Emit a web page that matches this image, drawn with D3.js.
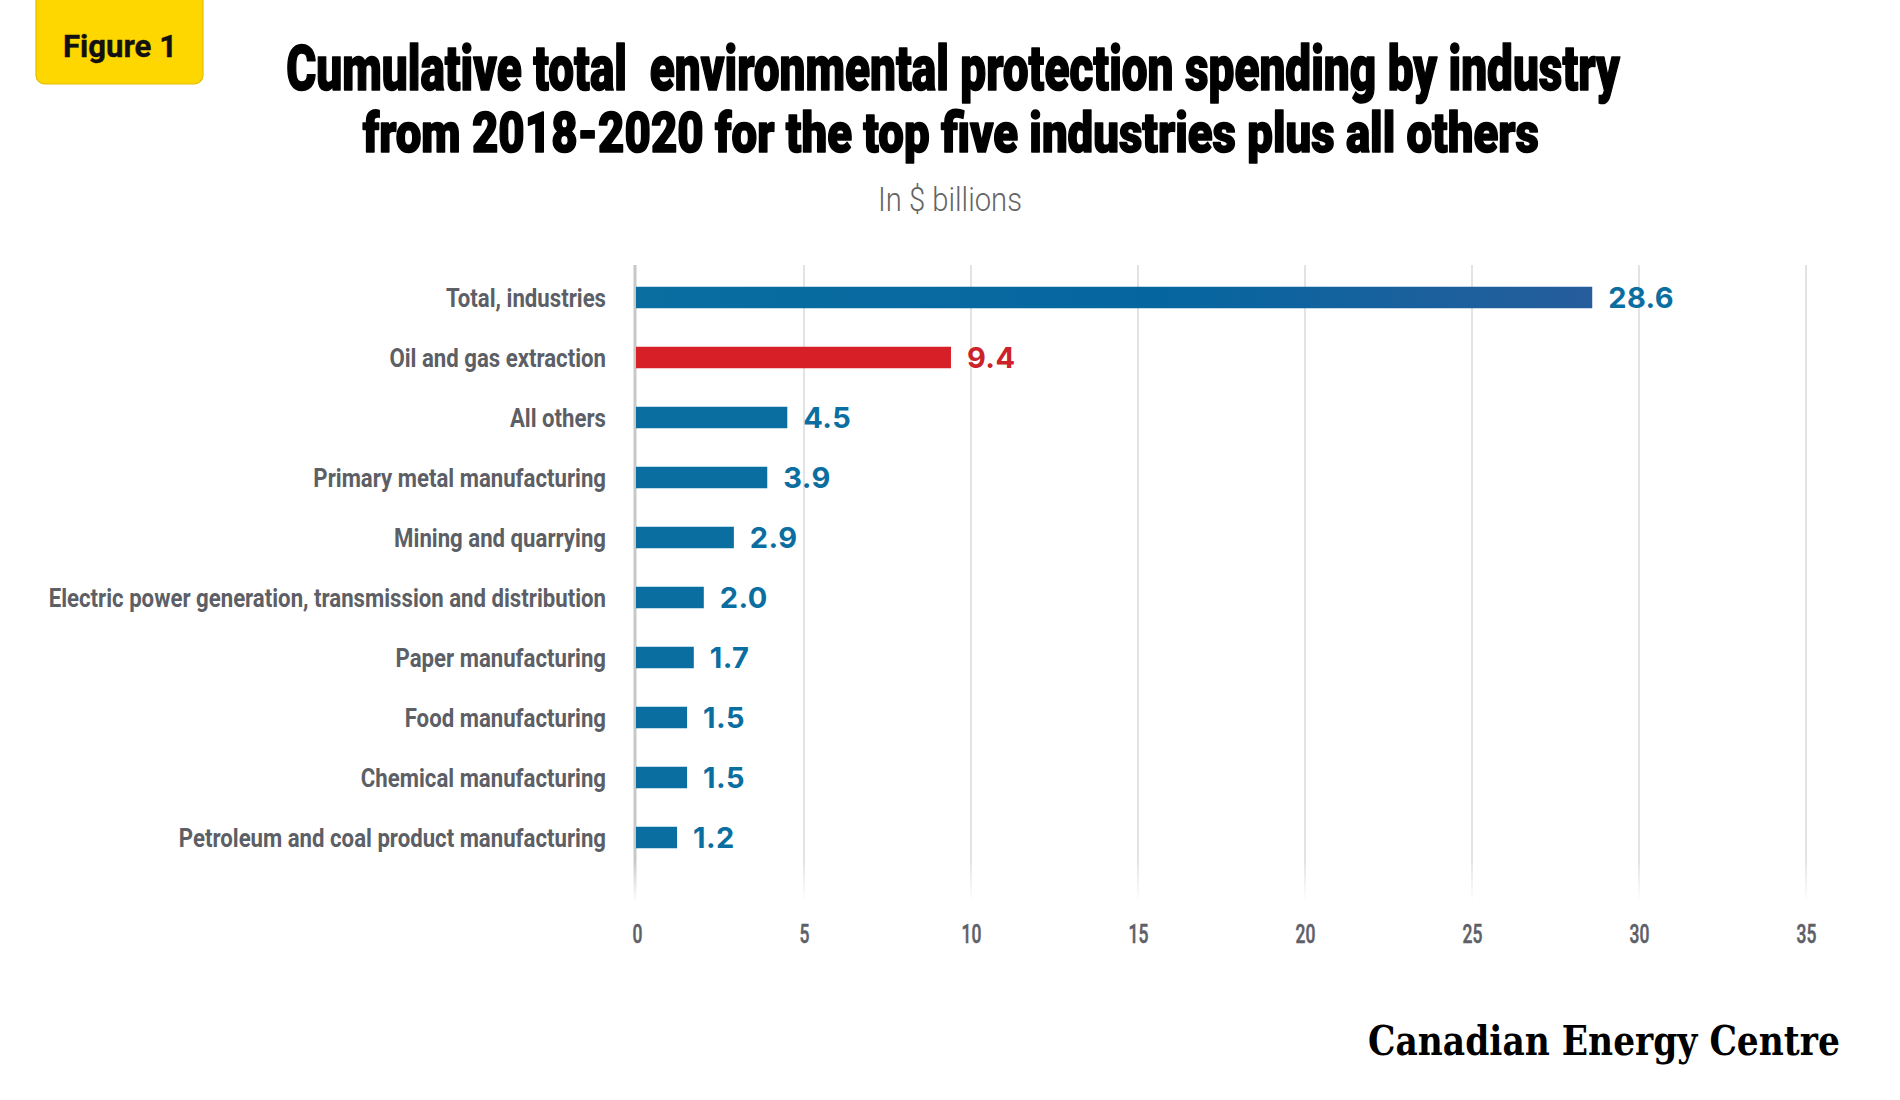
<!DOCTYPE html>
<html>
<head>
<meta charset="utf-8">
<script src="https://cdn.jsdelivr.net/npm/d3@7"></script>
<style>
  html, body { margin: 0; padding: 0; background: #ffffff; }
  svg { display: block; }
</style>
</head>
<body>
<svg id="chart" width="1900" height="1100"></svg>
<script>
// ---- Data ----
const categories = [
  "Total, industries",
  "Oil and gas extraction",
  "All others",
  "Primary metal manufacturing",
  "Mining and quarrying",
  "Electric power generation, transmission and distribution",
  "Paper manufacturing",
  "Food manufacturing",
  "Chemical manufacturing",
  "Petroleum and coal product manufacturing"
];
const values = [28.6, 9.4, 4.5, 3.9, 2.9, 2.0, 1.7, 1.5, 1.5, 1.2];
const highlight = ["Total", "Oil", "Other", "Other", "Other", "Other", "Other", "Other", "Other", "Other"];
const xTicks = [0, 5, 10, 15, 20, 25, 30, 35];
const titleLines = [
  "Cumulative total  environmental protection spending by industry",
  "from 2018-2020 for the top five industries plus all others"
];
const subtitle = "In $ billions";
const badge = "Figure 1";
const brand = "Canadian Energy Centre";

// ---- Layout ----
const svg = d3.select("#chart");
const defs = svg.append("defs");

const x = d3.scaleLinear().domain([0, 35]).range([637, 1806]);
const y = d3.scalePoint().domain(categories).range([297.5, 837.5]);
const barH = 21.5;
const gridTop = 265, gridBottom = 902;

const colors = { Total: "url(#totalGrad)", Oil: "#D61F26", Other: "#0A6EA1" };
const labelColors = { Total: "#0A6EA1", Oil: "#CC2229", Other: "#0A6EA1" };

// helper: place a text at (px, py) and squeeze it horizontally to a target width
function fittedText(parent, px, py, str, targetW, anchor, attrs) {
  const g = parent.append("g").attr("transform", `translate(${px},${py})`);
  const t = g.append("text").attr("text-anchor", anchor).style("white-space", "pre").text(str);
  Object.entries(attrs).forEach(([k, v]) => t.attr(k, v));
  const w = t.node().getComputedTextLength();
  if (w > 0) t.attr("transform", `scale(${targetW / w},1)`);
  return t;
}

// gradients
const tg = defs.append("linearGradient").attr("id", "totalGrad")
  .attr("x1", "0%").attr("x2", "100%").attr("y1", "0%").attr("y2", "0%");
tg.append("stop").attr("offset", "0%").attr("stop-color", "#0A6EA1");
tg.append("stop").attr("offset", "55%").attr("stop-color", "#05669F");
tg.append("stop").attr("offset", "100%").attr("stop-color", "#275D9C");

const gg = defs.append("linearGradient").attr("id", "gridFade")
  .attr("gradientUnits", "userSpaceOnUse")
  .attr("x1", 0).attr("x2", 0).attr("y1", 860).attr("y2", gridBottom);
gg.append("stop").attr("offset", "0%").attr("stop-color", "#dcdcdc").attr("stop-opacity", 1);
gg.append("stop").attr("offset", "100%").attr("stop-color", "#dcdcdc").attr("stop-opacity", 0);
const ag = defs.append("linearGradient").attr("id", "axisFade")
  .attr("gradientUnits", "userSpaceOnUse")
  .attr("x1", 0).attr("x2", 0).attr("y1", 860).attr("y2", gridBottom);
ag.append("stop").attr("offset", "0%").attr("stop-color", "#c8c8c8").attr("stop-opacity", 1);
ag.append("stop").attr("offset", "100%").attr("stop-color", "#c8c8c8").attr("stop-opacity", 0);

// ---- Badge ----
svg.append("rect")
  .attr("x", 36).attr("y", -12).attr("width", 167).attr("height", 96)
  .attr("rx", 9).attr("fill", "#FFD700").attr("stroke", "#E3BC00").attr("stroke-width", 1.2);
fittedText(svg, 120, 56.5, badge, 114, "middle", {
  "font-family": "Roboto, 'Open Sans', sans-serif",
  "font-weight": 700, "font-size": 31, "fill": "#111",
  "stroke": "#111", "stroke-width": 0.4
});

// ---- Title ----
const titleSpec = [
  { size: 63, base: 90, x0: 286, x1: 1620 },
  { size: 56, base: 151.7, x0: 362.7, x1: 1539 }
];
titleLines.forEach((t, i) => {
  const s = titleSpec[i];
  fittedText(svg, (s.x0 + s.x1) / 2, s.base, t, s.x1 - s.x0, "middle", {
    "font-family": "Roboto, 'Liberation Sans', sans-serif",
    "font-weight": 900, "font-size": s.size, "fill": "#000",
    "stroke": "#000", "stroke-width": 1.6, "stroke-linejoin": "round"
  });
});

// subtitle
fittedText(svg, 950, 210.7, subtitle, 144, "middle", {
  "font-family": "Roboto, 'Open Sans', sans-serif",
  "font-weight": 300, "font-size": 34, "fill": "#646464"
});

// ---- Gridlines + x axis ----
const xAxis = d3.axisBottom(x).tickValues(xTicks).tickSize(0).tickPadding(0).tickFormat(d3.format("d"));
const axG = svg.append("g").attr("transform", `translate(0, 943)`).call(xAxis);
axG.select(".domain").remove();
axG.selectAll(".tick text")
  .attr("y", 0).attr("dy", 0)
  .attr("font-family", "Roboto, 'Open Sans', sans-serif")
  .attr("font-weight", 500).attr("font-size", 25)
  .attr("fill", "#5E6068")
  .attr("stroke", "#5E6068").attr("stroke-width", 0.5)
  .attr("transform", "scale(0.7,1)");

svg.append("g").selectAll("line.grid")
  .data(xTicks.filter(d => d > 0))
  .join("line")
  .attr("class", "grid")
  .attr("x1", d => x(d)).attr("x2", d => x(d))
  .attr("y1", gridTop).attr("y2", gridBottom)
  .attr("stroke", "url(#gridFade)").attr("stroke-width", 1.6);

svg.append("rect")
  .attr("x", x(0) - 3.5).attr("y", gridTop)
  .attr("width", 3).attr("height", gridBottom - gridTop)
  .attr("fill", "url(#axisFade)");

// ---- Bars ----
svg.append("g").selectAll("rect.bar")
  .data(categories)
  .join("rect")
  .attr("class", "bar")
  .attr("x", x(0) - 1)
  .attr("y", d => y(d) - barH / 2)
  .attr("width", (d, i) => x(values[i]) - x(0) + 1)
  .attr("height", barH)
  .attr("fill", (d, i) => colors[highlight[i]]);

// value labels
svg.append("g").selectAll("text.val")
  .data(categories)
  .join("text")
  .attr("class", "val")
  .attr("x", (d, i) => x(values[i]) + 16)
  .attr("y", d => y(d) + 10)
  .attr("font-family", "Inter, 'DejaVu Sans', sans-serif")
  .attr("font-weight", 700).attr("font-size", 29)
  .attr("letter-spacing", 0.4)
  .attr("fill", (d, i) => labelColors[highlight[i]])
  .text((d, i) => values[i].toFixed(1));

// category labels (condensed via horizontal scale)
const catTexts = svg.append("g").selectAll("g.cat")
  .data(categories)
  .join("g")
  .attr("class", "cat")
  .attr("transform", d => `translate(606, ${y(d) + 9})`)
  .append("text")
  .attr("text-anchor", "end")
  .attr("font-family", "Roboto, 'Open Sans', sans-serif")
  .attr("font-weight", 700).attr("font-size", 26)
  .attr("fill", "#5D5F66")
  .text(d => d);
let maxW = 0;
catTexts.each(function () { maxW = Math.max(maxW, this.getComputedTextLength()); });
const sx = maxW > 0 ? 557.7 / maxW : 0.75;
catTexts.attr("transform", `scale(${sx},1)`);

// ---- Brand ----
fittedText(svg, 1368, 1055, brand, 472, "start", {
  "font-family": "'DejaVu Serif', 'Liberation Serif', serif",
  "font-weight": 700, "font-size": 41, "fill": "#000"
});
</script>
</body>
</html>
